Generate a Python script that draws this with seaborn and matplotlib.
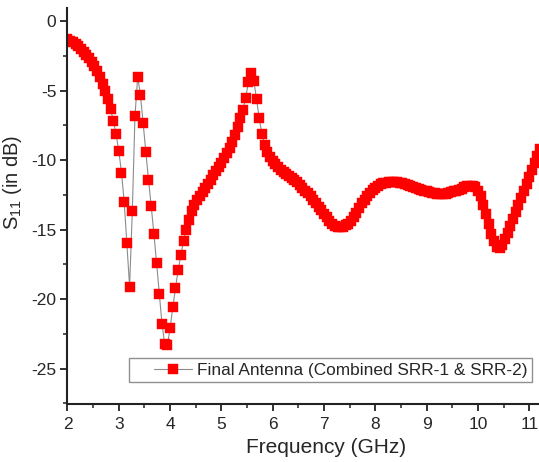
import numpy as np
import seaborn as sns
import matplotlib.pyplot as plt
from matplotlib.legend_handler import HandlerLine2D

# S11 values (dB), uniform sweep 2-12 GHz (191 pts), only the visible part
s11_db = [
    -1.30, -1.40, -1.52, -1.66, -1.83, -2.02, -2.22, -2.44, -2.68, -2.95,
    -3.25, -3.60, -4.05, -4.50, -5.00, -5.60, -6.35, -7.20, -8.15, -9.35,
    -10.9, -13.0, -16.0, -19.1, -13.7, -6.8, -4.0, -5.3, -7.3, -9.4,
    -11.4, -13.3, -15.3, -17.4, -19.6, -21.8, -23.2, -23.3, -22.1, -20.6,
    -19.2, -17.9, -16.8, -15.8, -15.0, -14.3, -13.7, -13.25, -12.9, -12.6,
    -12.3, -12.0, -11.7, -11.4, -11.1, -10.8, -10.5, -10.2, -9.85, -9.5,
    -9.1, -8.7, -8.2, -7.6, -7.0, -6.4, -5.5, -4.4, -3.75, -4.3,
    -5.6, -7.0, -8.1, -8.9, -9.4, -9.8, -10.1, -10.3, -10.5, -10.7,
    -10.85, -11.0, -11.15, -11.3, -11.45, -11.6, -11.8, -12.0, -12.2, -12.4,
    -12.6, -12.85, -13.1, -13.35, -13.6, -13.85, -14.1, -14.35, -14.6, -14.75,
    -14.85, -14.85, -14.8, -14.7, -14.6, -14.4, -14.1, -13.8, -13.45, -13.1,
    -12.85, -12.6, -12.35, -12.15, -11.98, -11.85, -11.75, -11.68, -11.63, -11.6,
    -11.58, -11.58, -11.6, -11.63, -11.68, -11.74, -11.8, -11.87, -11.95, -12.03,
    -12.1, -12.16, -12.21, -12.25, -12.3, -12.35, -12.4, -12.43, -12.45, -12.45,
    -12.42, -12.38, -12.32, -12.25, -12.2, -12.15, -12.05, -11.97, -11.9, -11.85,
    -11.85, -11.95, -12.2, -12.6, -13.2, -13.9, -14.6, -15.3, -15.85, -16.25,
    -16.35, -16.1, -15.7, -15.25, -14.75, -14.25, -13.75, -13.25, -12.7, -12.2,
    -11.7, -11.2, -10.7, -10.2, -9.7, -9.2,
]
freq_ghz = np.linspace(2, 12, 191)[:len(s11_db)]

x_ticks = [2, 3, 4, 5, 6, 7, 8, 9, 10, 11]
y_ticks = [0, -5, -10, -15, -20, -25]
series_label = 'Final Antenna (Combined SRR-1 & SRR-2)'

sns.set_style('ticks')
plt.rcParams['font.family'] = ['Liberation Sans', 'DejaVu Sans']
plt.rcParams['mathtext.fontset'] = 'custom'
plt.rcParams['mathtext.rm'] = 'Liberation Sans'
plt.rcParams['axes.unicode_minus'] = False

fig = plt.figure(figsize=(5.39, 4.62), dpi=100)
ax = fig.add_axes([0.1252, 0.1255, 0.8748, 0.8572])

sns.lineplot(x=freq_ghz, y=s11_db, ax=ax, sort=False, color='#8c8c8c', lw=0.8,
             marker='s', markersize=6.6, markerfacecolor='#ff0000',
             markeredgecolor='#ff0000', markeredgewidth=0.3, label=series_label)

ax.set_xlim(2, 11.19)
ax.set_ylim(-27.55, 0.94)
ax.set_xticks(x_ticks)
ax.set_yticks(y_ticks)
ax.set_xticks(np.arange(2.5, 11.2, 1.0), minor=True)
ax.set_yticks(np.arange(-27.5, 0.1, 5.0), minor=True)
ax.tick_params(which='major', direction='out', length=5, width=1.3,
               labelsize=12.5, color='#222222', pad=3)
ax.tick_params(axis='x', which='major', pad=4.5)
ax.tick_params(which='minor', direction='out', length=3, width=1.1, color='#222222')

for side in ['top', 'right']:
    ax.spines[side].set_visible(False)
for side in ['left', 'bottom']:
    ax.spines[side].set_linewidth(1.5)
    ax.spines[side].set_color('#222222')

ax.set_xlabel('Frequency (GHz)', fontsize=15, labelpad=7)
ax.xaxis.set_label_coords(0.548, -0.085)
ax.set_ylabel(r'S$_\mathregular{11}$ (in dB)', fontsize=14.5)
ax.yaxis.set_label_coords(-0.092, 0.56)

handles, labels = ax.get_legend_handles_labels()
leg = ax.legend(handles, labels, loc='lower right', bbox_to_anchor=(0.985, 0.056),
                borderaxespad=0, borderpad=0.25, handlelength=3.41,
                handletextpad=0.3, fontsize=12.4, fancybox=False, framealpha=1,
                edgecolor='#909090', numpoints=1,
                handler_map={handles[0]: HandlerLine2D(xpad=1.2)})
leg.get_frame().set_linewidth(1.0)

fig.savefig('out.png', dpi=100)
